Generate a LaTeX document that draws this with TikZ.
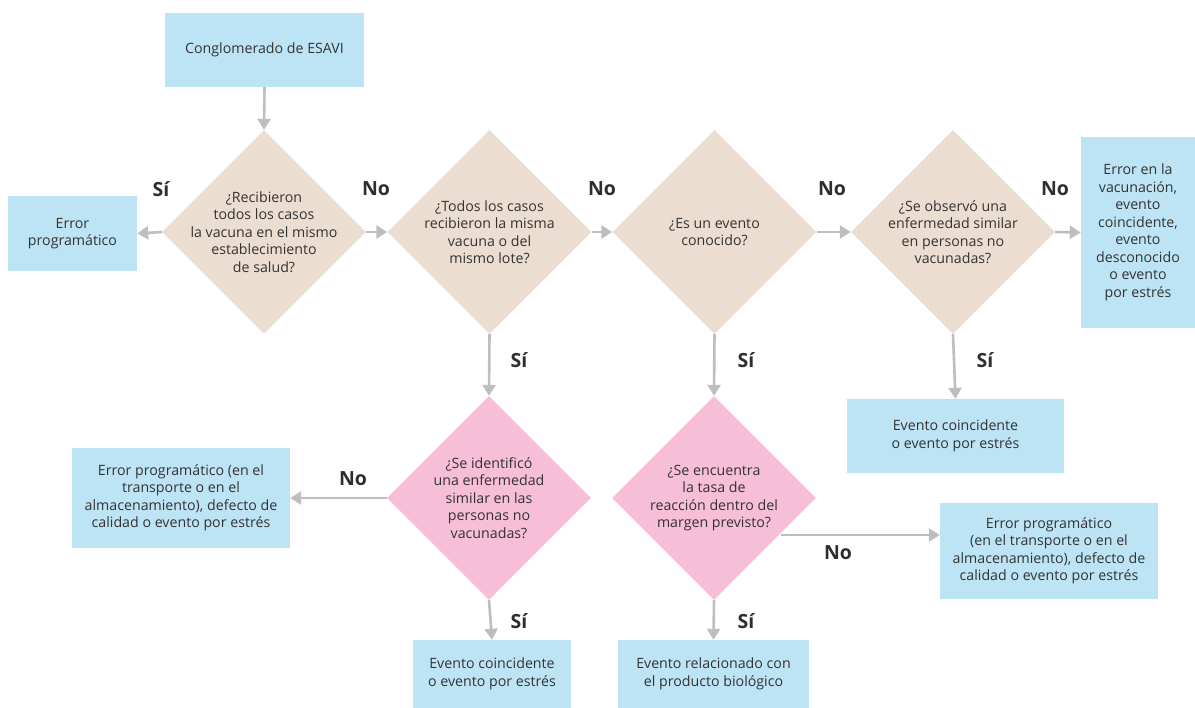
\documentclass[tikz,border=0pt]{standalone}
\usepackage{fontspec}
\setmainfont{Open Sans}
\usetikzlibrary{shapes.geometric,arrows.meta}
\definecolor{beige}{HTML}{EBDED0}
\definecolor{pinkd}{HTML}{F7BED7}
\definecolor{bluebox}{HTML}{BDE4F5}
\definecolor{arrgray}{HTML}{BEBEBE}
\definecolor{txtc}{HTML}{333333}
\tikzset{
  txt/.style={text=txtc, font=\fontsize{14.2}{17.5}\selectfont, align=center, inner sep=0pt},
  box/.style={txt, fill=bluebox, draw=none},
  qd/.style={diamond, draw=none, minimum width=204pt, minimum height=204pt, inner sep=0pt},
  beigeq/.style={qd, fill=beige},
  pinkq/.style={qd, fill=pinkd},
  arr/.style={draw=arrgray, line width=2.6pt, -{Triangle[length=11pt,width=13pt]}},
  lab/.style={text=txtc!90!black, font=\fontsize{19.5}{22}\selectfont\bfseries, inner sep=0pt},
}
\begin{document}
\begin{tikzpicture}[x=1pt,y=-1pt]
\useasboundingbox (0,0) rectangle (1195,708);
% boxes
\node[box, minimum width=199pt, minimum height=74pt] (top) at (264.5,50) {Conglomerado de ESAVI};
\node[box, minimum width=129pt, minimum height=75pt] (err1) at (72.5,233.5) {Error\\programático};
\node[box, minimum width=114pt, minimum height=191pt] (rbox) at (1138,232.5) {Error en la\\vacunación,\\evento\\coincidente,\\evento\\desconocido\\o evento\\por estrés};
\node[box, minimum width=217pt, minimum height=74pt] (ev1) at (955.5,436) {Evento coincidente\\o evento por estrés};
\node[box, minimum width=218pt, minimum height=100pt] (err2) at (181,498) {Error programático (en el\\transporte o en el\\almacenamiento), defecto de\\calidad o evento por estrés};
\node[box, minimum width=158pt, minimum height=68pt] (ev2) at (492,674) {Evento coincidente\\o evento por estrés};
\node[box, minimum width=191pt, minimum height=68pt] (ev3) at (713.5,674) {Evento relacionado con\\el producto biológico};
\node[box, minimum width=218pt, minimum height=96pt] (err3) at (1049,551) {Error programático\\(en el transporte o en el\\almacenamiento), defecto de\\calidad o evento por estrés};
% diamonds
\node[beigeq, label={[txt]center:¿Recibieron\\todos los casos\\la vacuna en el mismo\\establecimiento\\de salud?}] (d1) at (264,232) {};
\node[beigeq, label={[txt]center:¿Todos los casos\\recibieron la misma\\vacuna o del\\mismo lote?}] (d2) at (489.5,232) {};
\node[beigeq, label={[txt]center:¿Es un evento\\conocido?}] (d3) at (714.5,232) {};
\node[beigeq, label={[txt]center:¿Se observó una\\enfermedad similar\\en personas no\\vacunadas?}] (d4) at (953,232) {};
\node[pinkq, label={[txt]center:¿Se identificó\\una enfermedad\\similar en las\\personas no\\vacunadas?}] (d5) at (489,498) {};
\node[pinkq, label={[txt]center:¿Se encuentra\\la tasa de\\reacción dentro del\\margen previsto?}] (d6) at (714,498) {};
% connectors
\draw[arr] (top.south) -- (d1.north);
\draw[arr] (d1.west) -- (err1.east);
\draw[arr] (d1.east) -- (d2.west);
\draw[arr] (d2.east) -- (d3.west);
\draw[arr] (d3.east) -- (d4.west);
\draw[arr] (d4.east) -- (rbox.west);
\draw[arr] (d4.south) -- (ev1.north);
\draw[arr] (d2.south) -- (d5.north);
\draw[arr] (d3.south) -- (d6.north);
\draw[arr] (d5.west) -- (err2.east);
\draw[arr] (d5.south) -- (ev2.north);
\draw[arr] (d6.south) -- (ev3.north);
\coordinate (n6) at (781,535);
\draw[arr] (n6) -- (n6 -| err3.west);
% labels
\node[lab] (l1) at (161,189) {Sí};
\node[lab] (l2) at (376,189) {No};
\node[lab] (l3) at (602,189) {No};
\node[lab] (l4) at (832,189) {No};
\node[lab] (l5) at (1055,189) {No};
\node[lab] (l6) at (519,360) {Sí};
\node[lab] (l7) at (746,360) {Sí};
\node[lab] (l8) at (985,360) {Sí};
\node[lab] (l9) at (353,479) {No};
\node[lab] (l10) at (838,553) {No};
\node[lab] (l11) at (519,621) {Sí};
\node[lab] (l12) at (746,621) {Sí};
\end{tikzpicture}
\end{document}
